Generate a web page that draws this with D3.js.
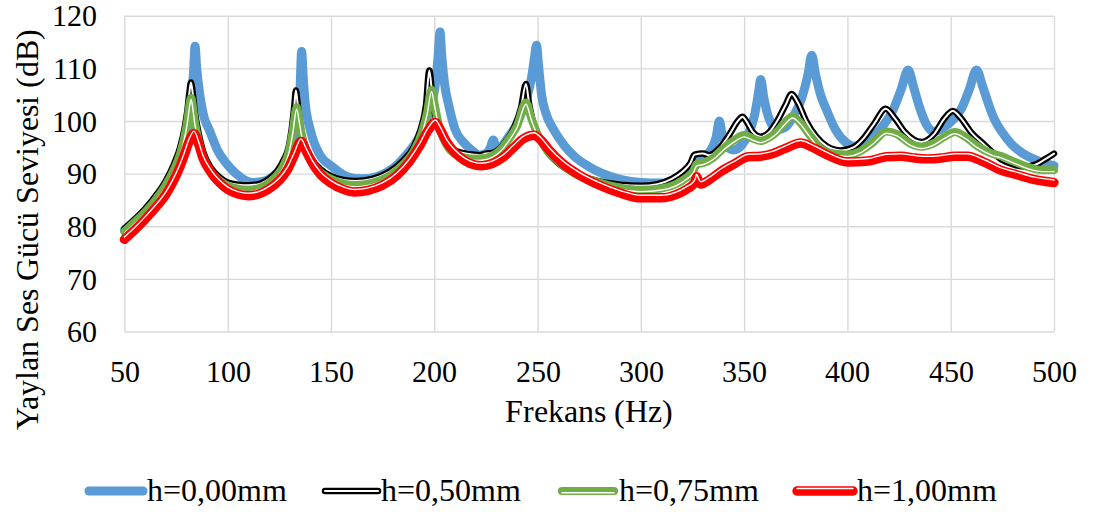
<!DOCTYPE html>
<html>
<head>
<meta charset="utf-8">
<script src="https://cdn.jsdelivr.net/npm/d3@7"></script>
<style>
  @font-face { font-family: "ChartSerif"; src: local("Liberation Serif"), local("LiberationSerif"), local("LiberationSerif-Regular"), local("Times New Roman"), local("DejaVu Serif"); }
</style>
</head>
<body style="margin:0">
<svg id="chart" width="1093" height="512"></svg>
<script>
// ---------- data ----------
const seriesNames = ["h=0,00mm", "h=0,50mm", "h=0,75mm", "h=1,00mm"];
const xTicks = [50, 100, 150, 200, 250, 300, 350, 400, 450, 500];
const yTicks = [60, 70, 80, 90, 100, 110, 120];
const xTitle = "Frekans (Hz)";
const yTitle = "Yaylan Ses Gücü Seviyesi (dB)";

const freqH000 = [50,55,60,65,70,74,77,79,81,82.5,83.5,84.2,85,86.6,88.5,91.1,95,99.2,104,112,118,123,127,130,132.5,134,135,135.8,136.6,137.5,140,144.7,150,158,165,172,180,187,192,196,199,201,202,202.8,203.6,205,207,210,214,218,222,225,227,228.6,230,232,236,240,244,247,248.5,249.5,250.5,252,254,258,263,268,275,281,290,300,310,317,322,325.5,327,330,334,336.5,338,339.5,342,345,349,352,355,357,358,359.5,362,366,370,374,378,381,382.7,384.5,387,390,394,399,403,408,413,418,422,426,429.4,432,435,438,441.5,446,451,455,459,462.5,465.5,468.5,471.3,475,479.4,485,490.6,495,500];
const valH000  = [79.3,81.0,82.8,85.0,87.5,90.2,93.0,95.8,99.5,104.5,109.5,114.2,110,104.6,100.8,98.3,94.5,92.0,90.0,88.3,88.6,89.8,91.5,93.5,96.5,100,106,113.2,108,103.5,98.3,93.5,91.5,89.4,89.0,89.4,91.0,93.8,96.5,100,103.5,108.5,113,116.9,112.5,107,103,98.5,96.0,94.5,93.5,93.8,94.8,96.4,94.8,95.0,97.0,99.5,103.5,108,112,114.4,110.5,104.8,101.5,98.2,95.3,93.2,91.3,90.1,88.9,88.3,88.2,88.8,89.8,91.0,92.5,93.2,94.5,97,100,97,95,94.5,95.5,97.5,101,105.5,107.9,104.5,100.5,98.3,98.8,101,104.5,109,112.5,109,105,102,98.5,96,95.2,95.8,97.2,99.5,102,106,109.7,106.5,102.5,99.5,98.0,98.6,100.2,102.2,106,109.7,106.5,103,100.2,97.8,95.6,93.8,92.7,92.0,91.5];

const freqH050 = [50,55,60,65,70,74,77,79,80.5,81.5,82.2,83,84,86,88,92,96,100,105,110,115,120,124,127,129.5,131,132.3,133,133.8,135,137,140,145,150,156,162,170,178,185,190,193.5,196,197.6,199,201,204,208,214,219,222,225,228,231,235,239,242,244.4,246,248,251,255,260,268,278,290,300,308,315,320,324,326,330,333,338,343,347,349.2,351,354,358,362,366,370,373,376,380,385,390,396.8,403,408,413,418.5,423,428,435.8,442,447,451,455,460,466,474.5,480,485.8,491,496,500];
const valH050  = [79.5,81.3,83.3,85.7,88.6,91.8,95.0,98.3,102,105.5,107.3,105.5,102,97.5,94.3,91.0,89.3,88.3,87.9,87.8,88.0,89.0,90.5,92.5,95,98.5,103,105.8,103.5,99.5,96,93.2,90.8,89.5,88.8,88.6,89.0,90.3,92.5,95.0,98.5,103,109.6,105,100,96.8,94.8,93.9,93.6,93.5,93.8,93.9,94.5,96.3,99.0,102.5,107.0,103,99.5,96.5,94,92.0,90.0,88.7,87.9,87.7,88.0,89.0,90.3,92.0,93.6,93.8,93.5,94.8,97.5,100,100.8,100,98,97,97.8,100,103,105.1,103.5,100,97,95.2,94.4,95,96.8,99.5,102.3,100.5,97.8,96.0,97.5,100.5,101.9,100.5,97.8,95.6,92.7,91.8,91.3,91.7,92.8,93.8];

const freqH075 = [50,55,60,65,70,74,77,79,80.5,81.5,82.3,83,84,86,88,92,96,100,105,110,115,120,124,127,129.5,131.5,133.4,134.5,136,138,141,145,150,156,162,170,178,185,190,194,196.5,198.7,200,202,205,209,215,220,224,228,232,236,240,244.4,247,250,254,260,268,278,290,300,310,317,322,325.5,327,330,335,340,345,350,354,358,362,366,370,373.4,377,382,387,393,400,406,412,419,424,430,436,442,447,452,457,463,470,474.5,480,487,494,500];
const valH075  = [79.0,80.8,82.7,85.0,87.8,90.8,93.8,96.8,100,103,104.4,103,100,96,93.3,90.3,88.7,87.7,87.1,86.9,87.2,88.2,89.7,91.5,94.0,98,102.6,100.5,97,94.2,92.0,90.2,89.0,88.1,87.8,88.2,89.5,91.7,94.2,97.8,101.5,105.9,103.5,99.5,96.2,94.0,93.0,92.8,92.9,93.4,94.5,96.5,99.0,103.5,100.5,97.5,94.8,92.3,90.0,88.5,87.3,86.9,87.2,88.0,89.2,90.5,91.8,92.0,93.0,94.8,96.3,97.3,96.7,96.2,96.8,98.0,99.8,100.9,99.8,97.2,94.8,93.8,93.6,94.2,95.8,98.0,97.5,95.8,95.1,95.8,97.0,97.9,97.0,95.2,93.8,93.3,92.4,91.3,90.7,90.7];

const freqH100 = [50,55,60,65,70,74,77,79,81,83.7,86,88,92,96,100,105,110,115,120,125,129,132,135.5,138,141,145,150,156,161.6,168,175,182,188,193,197,200.5,203,206,210,215,220,223,228,233,238,243,248.4,252,256,262,270,280,290,300,310,317,322,325,326.3,327,327.8,329,333,338.7,345,352,358,364,370,377.4,383,390,400,410,419,426,432,439,446,452,458,466,474.5,482,490,500];
const valH100  = [77.5,79.3,81.3,83.5,86.0,88.8,91.4,93.5,95.8,97.6,95.5,93.0,90.2,88.3,87.0,86.1,85.8,86.1,87.1,88.7,90.8,93.3,96.1,94.3,92.0,89.8,88.2,87.0,86.5,86.8,87.8,89.7,92.3,95.3,98.2,99.7,98.3,96.0,94.0,92.4,91.6,91.5,91.9,93.0,94.8,96.6,97.3,96.2,94.3,92.0,89.8,87.8,86.3,85.4,85.4,86.0,87.0,87.8,88.5,89.4,88.7,88.0,88.8,90.4,91.8,93.2,93.3,93.8,94.8,95.8,95.0,93.6,92.2,92.4,93.2,93.3,93.0,92.8,93.0,93.3,93.3,92.2,90.6,89.8,88.9,88.3];

// ---------- layout ----------
const FONT = "ChartSerif, Liberation Serif, Times New Roman, serif";
const svg = d3.select("#chart");
const X0 = 124.4, X1 = 1054, Y0 = 331.5, Y1 = 15.7;
const x = d3.scaleLinear().domain([50, 500]).range([X0, X1]);
const y = d3.scaleLinear().domain([60, 120]).range([Y0, Y1]);

// grid + axes
const gx = svg.append("g").attr("transform", `translate(0,${Y0})`)
  .call(d3.axisBottom(x).tickValues(xTicks).tickSize(-(Y0 - Y1)).tickPadding(29).tickFormat(d3.format("d")));
const gy = svg.append("g").attr("transform", `translate(${X0},0)`)
  .call(d3.axisLeft(y).tickValues(yTicks).tickSize(-(X1 - X0)).tickPadding(27.5).tickFormat(d3.format("d")));
[gx, gy].forEach(g => {
  g.attr("font-family", FONT).attr("font-size", 30);
  g.select(".domain").remove();
  g.selectAll(".tick line").attr("stroke", "#D9D9D9").attr("stroke-width", 1.4);
  g.selectAll(".tick text").attr("font-family", FONT).attr("font-size", 30).attr("fill", "#000");
});
gy.selectAll(".tick text").attr("dy", "0.34em");

// titles
svg.append("text").attr("x", (X0 + X1) / 2).attr("y", 422).attr("text-anchor", "middle")
  .attr("font-family", FONT).attr("font-size", 31.5).attr("fill", "#000").text(xTitle);
svg.append("text").attr("transform", "translate(38,229) rotate(-90)").attr("text-anchor", "middle")
  .attr("font-family", FONT).attr("font-size", 32).attr("fill", "#000").text(yTitle);

// series drawing
const line = d3.line().x(d => x(d[0])).y(d => y(d[1])).curve(d3.curveMonotoneX);
const zip = (f, v) => f.map((fi, i) => [fi, v[i]]);

const styles = [
  { color: "#5B9BD5", w: 9, inner: 0, off: 0 },
  { color: "#000000", w: 6.5, inner: 2, off: 0 },
  { color: "#70AD47", w: 8.2, inner: 1.4, off: 1.7 },
  { color: "#FF0000", w: 9.4, inner: 1.4, off: -2.5 }
];
const data = [zip(freqH000, valH000), zip(freqH050, valH050), zip(freqH075, valH075), zip(freqH100, valH100)];

const plot = svg.append("g");
data.forEach((pts, i) => {
  const s = styles[i];
  plot.append("path").attr("d", line(pts)).attr("fill", "none")
    .attr("stroke", s.color).attr("stroke-width", s.w)
    .attr("stroke-linejoin", "round").attr("stroke-linecap", "round");
  if (s.inner > 0) {
    plot.append("path").attr("d", line(pts)).attr("fill", "none")
      .attr("transform", `translate(0,${s.off})`)
      .attr("stroke", "#fff").attr("stroke-width", s.inner)
      .attr("stroke-linejoin", "round").attr("stroke-linecap", "round");
  }
});

// legend
const legendItems = [
  { x1: 89, x2: 143, tx: 147 },
  { x1: 325, x2: 378, tx: 381 },
  { x1: 562, x2: 614, tx: 619 },
  { x1: 797, x2: 853, tx: 857 }
];
const LY = 491;
legendItems.forEach((it, i) => {
  const s = styles[i];
  const g = svg.append("g");
  g.append("line").attr("x1", it.x1).attr("x2", it.x2).attr("y1", LY).attr("y2", LY)
    .attr("stroke", s.color).attr("stroke-width", s.w).attr("stroke-linecap", "round");
  if (s.inner > 0) {
    g.append("line").attr("x1", it.x1).attr("x2", it.x2).attr("y1", LY + s.off).attr("y2", LY + s.off)
      .attr("stroke", "#fff").attr("stroke-width", s.inner).attr("stroke-linecap", "round");
  }
  g.append("text").attr("x", it.tx).attr("y", 501).attr("font-family", FONT).attr("font-size", 31.5)
    .attr("fill", "#000").text(seriesNames[i]);
});
</script>
</body>
</html>
